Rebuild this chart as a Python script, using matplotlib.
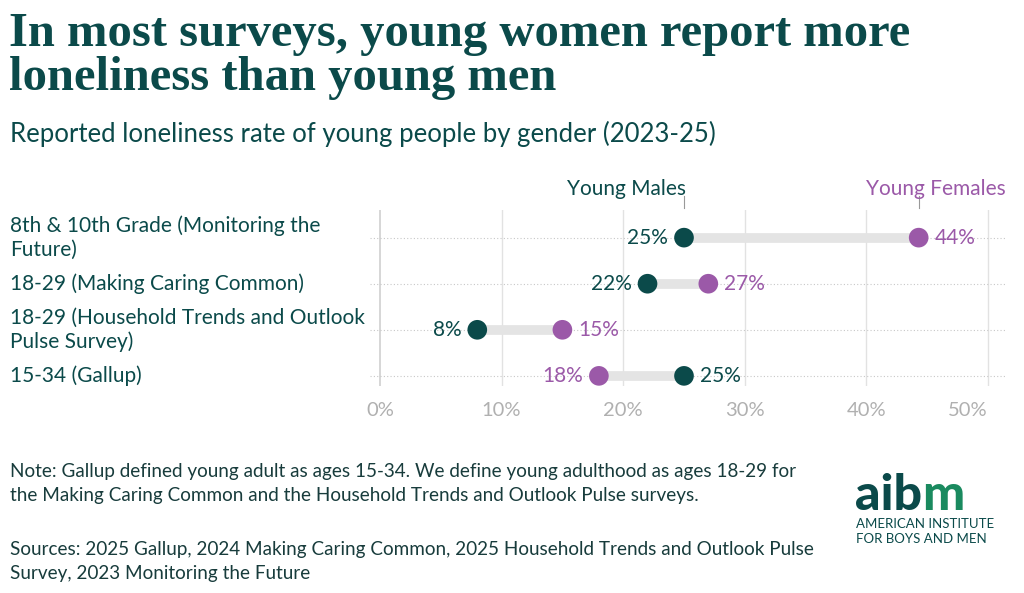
import numpy as np
import matplotlib.pyplot as plt

categories = ["8th & 10th Grade (Monitoring the\nFuture)",
              "18-29 (Making Caring Common)",
              "18-29 (Household Trends and Outlook\nPulse Survey)",
              "15-34 (Gallup)"]
males = [25, 22, 8, 25]
females = [44.3, 27, 15, 18]
male_labels = ["25%", "22%", "8%", "25%"]
female_labels = ["44%", "27%", "15%", "18%"]
xticks = [0, 10, 20, 30, 40, 50]
xtick_labels = ["0%", "10%", "20%", "30%", "40%", "50%"]

TEAL = "#0b4a4a"
PURPLE = "#9b59a8"
GREEN = "#1a8a5f"
SANS = "Lato"
FS = 15

W, H = 1024, 593
fig = plt.figure(figsize=(W / 100, H / 100), dpi=100)
fig.patch.set_facecolor("white")


def fx(px):
    return px / W


def fy(py):
    return 1 - py / H


# axes placed so that 0% sits at x=380px and 50% at x=988px
ppu = (988 - 380) / 50
xmin, xmax = -0.8, 51.5
left_px = 380 + xmin * ppu
right_px = 380 + xmax * ppu
top_px, bot_px = 210, 386
ax = fig.add_axes([fx(left_px), fy(bot_px), fx(right_px - left_px), (bot_px - top_px) / H])
ax.set_xlim(xmin, xmax)
ax.set_ylim(3.22, -0.6)
ax.axis("off")

for t, tl in zip(xticks, xtick_labels):
    ax.axvline(t, color="#cfcfcf" if t == 0 else "#e2e2e2", lw=1.2 if t == 0 else 1, zorder=0)
    fig.text(fx(380 + t * ppu) - (0.02 if t == 50 else 0), fy(411), tl,
             ha="center", va="center", fontsize=14.5, color="#b0b0b0", family=SANS)

y = np.arange(len(categories))
for i in y:
    ax.axhline(i, color="#c8c8c8", lw=0.8, ls=(0, (1, 2)), zorder=0)
    ax.plot([males[i], females[i]], [i, i], color="#e4e4e4", lw=7, solid_capstyle="butt", zorder=1)
ax.scatter(males, y, s=200, color=TEAL, zorder=3, edgecolors="none")
ax.scatter(females, y, s=200, color=PURPLE, zorder=3, edgecolors="none")

off = 1.3
for i in y:
    if males[i] < females[i]:
        ax.text(males[i] - off, i, male_labels[i], ha="right", va="center", fontsize=FS, color=TEAL, family=SANS)
        ax.text(females[i] + off, i, female_labels[i], ha="left", va="center", fontsize=FS, color=PURPLE, family=SANS)
    else:
        ax.text(males[i] + off, i, male_labels[i], ha="left", va="center", fontsize=FS, color=TEAL, family=SANS)
        ax.text(females[i] - off, i, female_labels[i], ha="right", va="center", fontsize=FS, color=PURPLE, family=SANS)

# series headers with small ticks
mx = 380 + males[0] * ppu
fxp = 380 + females[0] * ppu
fig.add_artist(plt.Line2D([fx(mx), fx(mx)], [fy(196), fy(208)], color="#999999", lw=0.8))
fig.add_artist(plt.Line2D([fx(fxp), fx(fxp)], [fy(196), fy(208)], color="#999999", lw=0.8))
fig.text(fx(mx + 2), fy(189), "Young Males", ha="right", va="center", fontsize=FS, color=TEAL, family=SANS)
fig.text(fx(fxp - 53), fy(189), "Young Females", ha="left", va="center", fontsize=FS, color=PURPLE, family=SANS)

# category labels
cat_y = [238, 284, 330, 376]
for lab, py in zip(categories, cat_y):
    fig.text(fx(10), fy(py), lab, ha="left", va="center", fontsize=FS, color=TEAL,
             family=SANS, linespacing=1.25)

# title and subtitle
fig.text(fx(9), fy(34), "In most surveys, young women report more", ha="left", va="center",
         fontsize=35, fontweight="bold", color=TEAL, family="Liberation Serif")
fig.text(fx(9), fy(78), "loneliness than young men", ha="left", va="center",
         fontsize=35, fontweight="bold", color=TEAL, family="Liberation Serif")
fig.text(fx(10), fy(134), "Reported loneliness rate of young people by gender (2023-25)",
         ha="left", va="center", fontsize=18.5, color=TEAL, family=SANS)

# notes
NC = "#183c3c"
NFS = 13.6
fig.text(fx(10), fy(471), "Note: Gallup defined young adult as ages 15-34. We define young adulthood as ages 18-29 for",
         ha="left", va="center", fontsize=NFS, color=NC, family=SANS)
fig.text(fx(10), fy(496), "the Making Caring Common and the Household Trends and Outlook Pulse surveys.",
         ha="left", va="center", fontsize=NFS, color=NC, family=SANS)
fig.text(fx(10), fy(549), "Sources: 2025 Gallup, 2024 Making Caring Common, 2025 Household Trends and Outlook Pulse",
         ha="left", va="center", fontsize=NFS, color=NC, family=SANS)
fig.text(fx(10), fy(574), "Survey, 2023 Monitoring the Future",
         ha="left", va="center", fontsize=NFS, color=NC, family=SANS)

# logo
lx, ly = 855, 496
t1 = fig.text(fx(lx), fy(ly), "aib", ha="left", va="center", fontsize=36, fontweight="black",
              color=TEAL, family=SANS)
fig.canvas.draw()
bb = t1.get_window_extent()
fig.text(bb.x1 / W, fy(ly), "m", ha="left", va="center", fontsize=36, fontweight="black",
         color=GREEN, family=SANS)
fig.text(fx(lx + 1), fy(524), "AMERICAN INSTITUTE", ha="left", va="center", fontsize=9.5,
         color=TEAL, family=SANS)
fig.text(fx(lx + 1), fy(539), "FOR BOYS AND MEN", ha="left", va="center", fontsize=9.5,
         color=TEAL, family=SANS)

fig.savefig("out.png", dpi=100, facecolor="white")
